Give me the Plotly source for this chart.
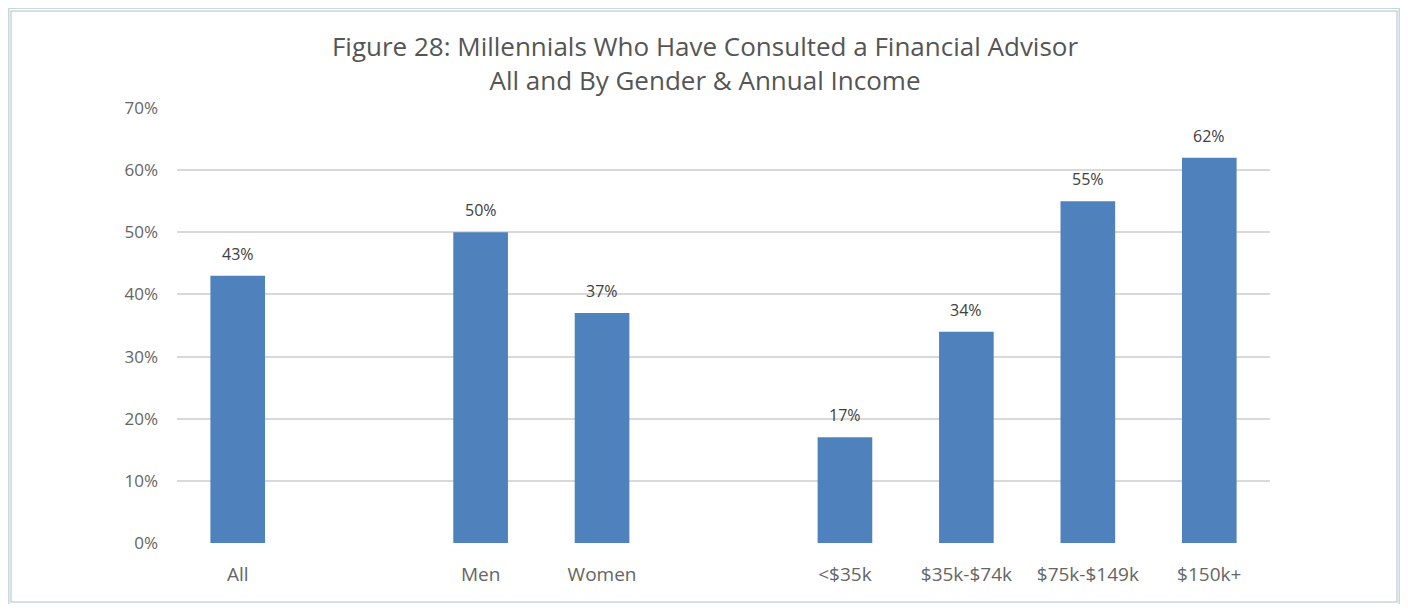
import plotly.graph_objects as go

# categories grouped (one empty slot between groups)
groups = [["All"], ["Men", "Women"], ["<$35k", "$35k-$74k", "$75k-$149k", "$150k+"]]
values = [43, 50, 37, 17, 34, 55, 62]
y_ticks = [0, 10, 20, 30, 40, 50, 60, 70]

categories = []
positions = []
pos = 0
for g in groups:
    for c in g:
        categories.append(c)
        positions.append(pos)
        pos += 1
    pos += 1

BAR = '#4F81BD'
GRID = '#D9D9D9'
TXT = '#656565'
FRAME = '#C9D6DB'

# page body has an 8px margin, so the figure is 16px smaller than the window
OFF = 8
W, H = 1408 - 2 * OFF, 612 - 2 * OFF
L, T = 177 - OFF, 108 - OFF
R, B = W - (1270 - OFF), H - (543 - OFF)
pw, ph = W - L - R, H - T - B


def px(x):
    return (x - OFF - L) / pw


def py(y):
    return (H - B - (y - OFF)) / ph


fig = go.Figure()
fig.add_trace(go.Bar(
    x=positions, y=values, width=0.45,
    marker=dict(color=BAR, line=dict(width=0)),
    hovertemplate='%{customdata}: %{y}%<extra></extra>',
    customdata=categories
))

for p, v in zip(positions, values):
    fig.add_annotation(x=p, y=v, text=f'{v}%', showarrow=False, yshift=22,
                       font=dict(family='Open Sans', size=16, color='#404040'))

fig.add_shape(type='rect', xref='paper', yref='paper',
              x0=px(6.5), x1=px(1401.5), y0=py(6), y1=py(607),
              line=dict(color=FRAME, width=6), layer='below')
fig.add_shape(type='rect', xref='paper', yref='paper',
              x0=px(11), x1=px(1397), y0=py(11), y1=py(602),
              line=dict(color=FRAME, width=1.5), layer='below')

fig.update_layout(
    title=dict(text='Figure 28: Millennials Who Have Consulted a Financial Advisor<br>All and By Gender & Annual Income',
               x=(705 - OFF) / W, xanchor='center', y=1 - (56 - OFF) / H, yanchor='middle',
               font=dict(family='Open Sans', size=26, color='#555555')),
    width=W, height=H,
    margin=dict(l=L, r=R, t=T, b=B),
    plot_bgcolor='#FFFFFF',
    paper_bgcolor='#FFFFFF',
    showlegend=False,
    xaxis=dict(range=[-0.5, pos - 1.5], tickmode='array', tickvals=positions, ticktext=categories,
               showgrid=False, zeroline=False, showline=False, ticks='',
               ticklabelstandoff=18,
               tickfont=dict(family='Open Sans', size=19, color=TXT)),
    yaxis=dict(range=[0, 70], tickmode='array', tickvals=y_ticks,
               ticktext=[f'{t}%' for t in y_ticks],
               showgrid=True, gridcolor=GRID, gridwidth=1.5, zeroline=False, showline=False,
               ticks='', ticklabelstandoff=18,
               tickfont=dict(family='Open Sans', size=17, color=TXT)),
)

fig.write_html("out.html")
